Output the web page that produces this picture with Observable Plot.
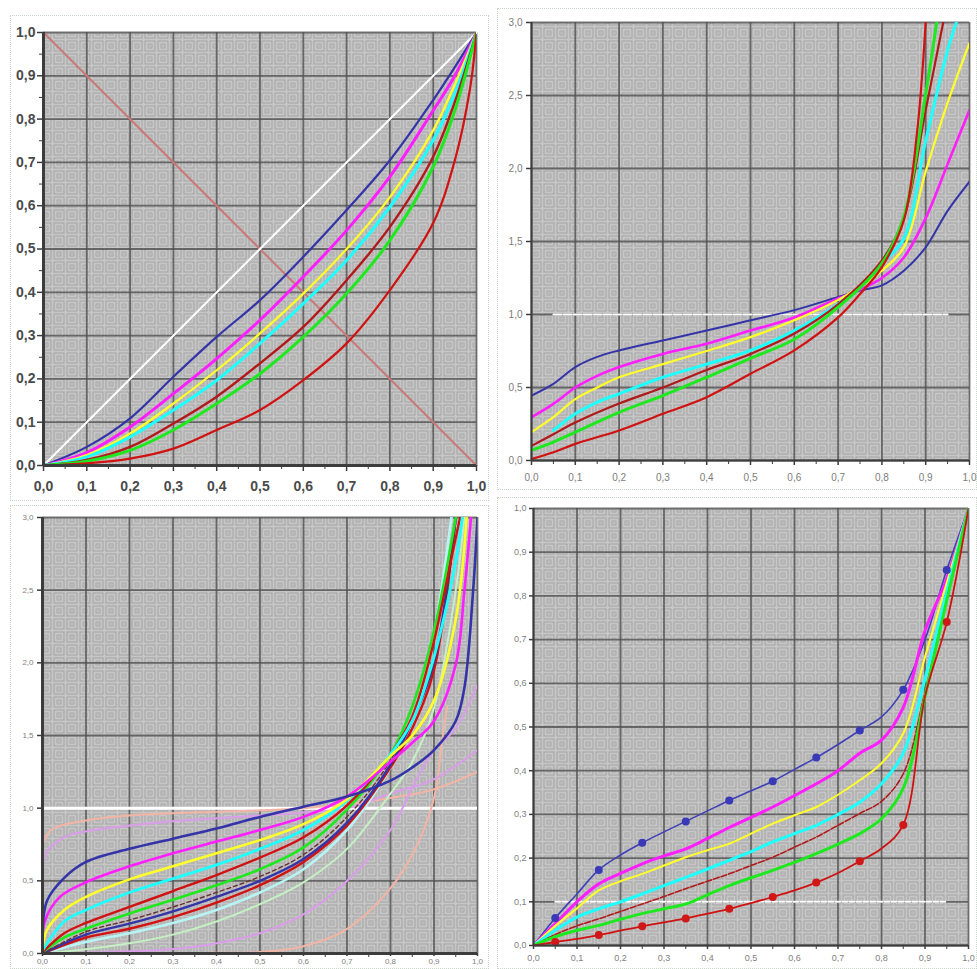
<!DOCTYPE html>
<html>
<head>
<meta charset="utf-8">
<script src="https://cdn.jsdelivr.net/npm/d3@7"></script>
<script src="https://cdn.jsdelivr.net/npm/@observablehq/plot@0.6"></script>
<style>
  html, body { margin: 0; padding: 0; background: #ffffff; }
  #root { position: relative; width: 977px; height: 969px; overflow: hidden; font-family: "Liberation Sans", Arial, sans-serif; }
  #root svg.panel { position: absolute; overflow: visible; }
  .frame { position: absolute; border: 1px dotted #c8d4c8; }
</style>
</head>
<body>
<div id="root"></div>
<script>
// ---------- tick labels ----------
const ticksTenth = [0, 0.1, 0.2, 0.3, 0.4, 0.5, 0.6, 0.7, 0.8, 0.9, 1.0];
const ticksMinor = [0.05, 0.15, 0.25, 0.35, 0.45, 0.55, 0.65, 0.75, 0.85, 0.95];
const ticksHalf = [0, 0.5, 1.0, 1.5, 2.0, 2.5, 3.0];

// ---------- panel 1 (top-left) ----------
const p1X = [0, 0.1, 0.2, 0.3, 0.4, 0.5, 0.6, 0.7, 0.8, 0.9, 0.95, 1.0];
const p1Blue    = [0, 0.043, 0.109, 0.205, 0.297, 0.382, 0.482, 0.590, 0.705, 0.844, 0.92, 1.0];
const p1Magenta = [0, 0.030, 0.089, 0.166, 0.247, 0.336, 0.436, 0.543, 0.667, 0.820, 0.90, 1.0];
const p1Yellow  = [0, 0.024, 0.074, 0.143, 0.220, 0.305, 0.397, 0.500, 0.620, 0.774, 0.88, 1.0];
const p1Cyan    = [0, 0.020, 0.066, 0.128, 0.197, 0.282, 0.374, 0.474, 0.597, 0.751, 0.86, 1.0];
const p1DarkRed = [0, 0.013, 0.043, 0.097, 0.159, 0.236, 0.320, 0.428, 0.551, 0.713, 0.84, 1.0];
const p1Green   = [0, 0.010, 0.035, 0.082, 0.143, 0.212, 0.297, 0.397, 0.520, 0.690, 0.82, 1.0];
const p1RedX = [0, 0.1, 0.2, 0.3, 0.4, 0.5, 0.6, 0.7, 0.8, 0.9, 0.95, 0.985, 1.0];
const p1Red  = [0, 0.005, 0.016, 0.039, 0.082, 0.128, 0.197, 0.282, 0.405, 0.560, 0.705, 0.87, 1.0];

// ---------- panel 2 (top-right) ----------
const p2X = [0, 0.05, 0.1, 0.15, 0.2, 0.3, 0.4, 0.5, 0.6, 0.7, 0.75, 0.8, 0.85, 0.9, 0.95, 1.0];
const p2Blue    = [0.445, 0.525, 0.64, 0.71, 0.754, 0.822, 0.89, 0.96, 1.03, 1.12, 1.165, 1.20, 1.30, 1.46, 1.71, 1.91];
const p2Magenta = [0.297, 0.388, 0.50, 0.58, 0.64, 0.73, 0.80, 0.89, 0.98, 1.11, 1.17, 1.25, 1.39, 1.66, 2.03, 2.40];
const p2Yellow  = [0.194, 0.297, 0.42, 0.50, 0.57, 0.66, 0.75, 0.845, 0.96, 1.10, 1.19, 1.30, 1.46, 1.98, 2.45, 2.86];
const p2CyanX = [0.05, 0.1, 0.15, 0.2, 0.3, 0.4, 0.5, 0.6, 0.7, 0.75, 0.8, 0.85, 0.9, 0.95, 0.97];
const p2Cyan  = [0.206, 0.32, 0.40, 0.457, 0.57, 0.66, 0.754, 0.89, 1.07, 1.19, 1.35, 1.52, 2.19, 2.81, 3.0];
const p2DarkRedX = [0, 0.05, 0.1, 0.2, 0.3, 0.4, 0.5, 0.6, 0.7, 0.8, 0.85, 0.9, 0.94];
const p2DarkRed  = [0.10, 0.18, 0.26, 0.39, 0.50, 0.62, 0.73, 0.87, 1.07, 1.37, 1.66, 2.40, 3.0];
const p2GreenX = [0, 0.05, 0.1, 0.2, 0.3, 0.4, 0.5, 0.6, 0.7, 0.8, 0.85, 0.9, 0.925];
const p2Green  = [0.07, 0.126, 0.194, 0.33, 0.445, 0.57, 0.70, 0.83, 1.05, 1.35, 1.67, 2.51, 3.0];
const p2RedX = [0, 0.05, 0.1, 0.2, 0.3, 0.4, 0.5, 0.6, 0.7, 0.75, 0.8, 0.85, 0.88, 0.9];
const p2Red  = [0.01, 0.057, 0.114, 0.206, 0.32, 0.434, 0.594, 0.754, 0.98, 1.14, 1.325, 1.645, 2.24, 3.0];
const p2WhiteX = [0.05, 0.95];
const p2WhiteY = [1.0, 1.0];

// ---------- panel 3 (bottom-left) ----------
const p3BlueAX = [0, 0.01, 0.05, 0.1, 0.2, 0.3, 0.4, 0.5, 0.6, 0.7, 0.8, 0.85, 0.9, 0.95, 0.97, 0.99, 1.0];
const p3BlueA  = [0.1, 0.36, 0.52, 0.63, 0.72, 0.79, 0.86, 0.94, 1.01, 1.08, 1.19, 1.28, 1.40, 1.60, 1.83, 2.5, 3.0];
const p3MagentaX = [0, 0.005, 0.04, 0.1, 0.2, 0.3, 0.4, 0.5, 0.6, 0.7, 0.8, 0.85, 0.9, 0.95, 0.97, 0.985];
const p3Magenta  = [0.05, 0.22, 0.39, 0.49, 0.60, 0.69, 0.77, 0.85, 0.94, 1.08, 1.32, 1.45, 1.60, 1.99, 2.5, 3.0];
const p3YellowX = [0, 0.01, 0.05, 0.1, 0.2, 0.3, 0.4, 0.5, 0.6, 0.7, 0.8, 0.85, 0.9, 0.95, 0.975];
const p3Yellow  = [0.03, 0.16, 0.30, 0.39, 0.51, 0.60, 0.69, 0.78, 0.89, 1.06, 1.36, 1.50, 1.74, 2.3, 3.0];
const p3CyanX = [0, 0.05, 0.1, 0.2, 0.3, 0.4, 0.5, 0.6, 0.7, 0.8, 0.85, 0.9, 0.95, 0.965];
const p3Cyan  = [0.02, 0.22, 0.30, 0.42, 0.515, 0.61, 0.72, 0.85, 1.05, 1.37, 1.60, 2.04, 2.7, 3.0];
const p3RedAX = [0, 0.05, 0.1, 0.2, 0.3, 0.4, 0.5, 0.6, 0.7, 0.8, 0.85, 0.9, 0.94, 0.96];
const p3RedA  = [0.01, 0.14, 0.21, 0.32, 0.43, 0.54, 0.66, 0.80, 1.02, 1.37, 1.63, 2.15, 2.72, 3.0];
const p3GreenX = [0, 0.05, 0.1, 0.2, 0.3, 0.4, 0.5, 0.6, 0.7, 0.8, 0.85, 0.9, 0.95];
const p3Green  = [0.01, 0.11, 0.17, 0.275, 0.37, 0.47, 0.58, 0.73, 0.99, 1.37, 1.70, 2.22, 3.0];
const p3DashX = [0, 0.1, 0.2, 0.3, 0.4, 0.5, 0.6, 0.7, 0.8, 0.9, 0.95];
const p3Dash  = [0, 0.15, 0.23, 0.32, 0.42, 0.53, 0.68, 0.94, 1.33, 2.0, 3.0];
const p3BlueBX = [0, 0.1, 0.2, 0.3, 0.4, 0.5, 0.6, 0.7, 0.8, 0.85, 0.9, 0.95];
const p3BlueB  = [0, 0.13, 0.205, 0.29, 0.39, 0.50, 0.65, 0.90, 1.30, 1.60, 2.0, 3.0];
const p3RedBX = [0, 0.1, 0.2, 0.3, 0.4, 0.5, 0.6, 0.7, 0.8, 0.85, 0.9, 0.95];
const p3RedB  = [0, 0.11, 0.17, 0.25, 0.35, 0.47, 0.63, 0.88, 1.28, 1.55, 1.95, 3.0];
const p3LightCyanX = [0, 0.1, 0.2, 0.3, 0.4, 0.5, 0.6, 0.7, 0.8, 0.85, 0.9, 0.94];
const p3LightCyan  = [0, 0.08, 0.14, 0.21, 0.30, 0.42, 0.58, 0.85, 1.28, 1.58, 2.2, 3.0];
const p3LightGreenX = [0, 0.1, 0.2, 0.3, 0.4, 0.5, 0.6, 0.7, 0.8, 0.85, 0.9, 0.95, 0.97];
const p3LightGreen  = [0, 0.03, 0.07, 0.13, 0.22, 0.34, 0.49, 0.72, 1.10, 1.32, 1.69, 2.5, 3.0];
const p3VioletLowX = [0, 0.1, 0.2, 0.3, 0.4, 0.5, 0.6, 0.7, 0.8, 0.86, 0.9, 0.95, 1.0];
const p3VioletLow  = [0, 0.005, 0.015, 0.03, 0.07, 0.14, 0.27, 0.50, 0.85, 1.20, 1.40, 1.55, 1.85];
const p3VioletHighX = [0, 0.01, 0.05, 0.1, 0.2, 0.3, 0.4, 0.5, 0.6, 0.7, 0.8, 0.9, 1.0];
const p3VioletHigh  = [0.60, 0.70, 0.80, 0.84, 0.88, 0.91, 0.93, 0.95, 0.97, 1.00, 1.10, 1.20, 1.40];
const p3SalmonHighX = [0, 0.02, 0.1, 0.2, 0.3, 0.4, 0.5, 0.6, 0.7, 0.8, 0.9, 1.0];
const p3SalmonHigh  = [0.75, 0.85, 0.915, 0.95, 0.965, 0.975, 0.985, 1.0, 1.03, 1.07, 1.13, 1.25];
const p3SalmonLowX = [0, 0.2, 0.4, 0.5, 0.6, 0.7, 0.8, 0.86, 0.9, 0.92, 0.93];
const p3SalmonLow  = [0, 0, 0.005, 0.01, 0.05, 0.17, 0.45, 0.74, 1.07, 1.49, 1.70];
const p3WhiteX = [0, 1.0];
const p3WhiteY = [1.0, 1.0];

// ---------- panel 4 (bottom-right) ----------
const p4X = [0, 0.05, 0.1, 0.15, 0.2, 0.25, 0.3, 0.35, 0.4, 0.45, 0.5, 0.55, 0.6, 0.65, 0.7, 0.75, 0.8, 0.85, 0.9, 0.95, 1.0];
const p4Blue    = [0, 0.063, 0.118, 0.173, 0.207, 0.235, 0.26, 0.284, 0.308, 0.332, 0.354, 0.376, 0.403, 0.43, 0.46, 0.492, 0.523, 0.585, 0.70, 0.859, 1.0];
const p4Magenta = [0, 0.05, 0.10, 0.141, 0.165, 0.187, 0.205, 0.221, 0.245, 0.27, 0.293, 0.317, 0.343, 0.37, 0.40, 0.44, 0.47, 0.545, 0.72, 0.84, 1.0];
const p4Yellow  = [0, 0.045, 0.085, 0.126, 0.147, 0.164, 0.183, 0.202, 0.218, 0.233, 0.256, 0.279, 0.298, 0.317, 0.345, 0.378, 0.417, 0.485, 0.66, 0.83, 1.0];
const p4Cyan    = [0, 0.035, 0.065, 0.084, 0.10, 0.118, 0.137, 0.156, 0.175, 0.195, 0.215, 0.237, 0.256, 0.275, 0.30, 0.328, 0.37, 0.44, 0.61, 0.81, 1.0];
const p4DarkRed = [0, 0.025, 0.045, 0.061, 0.078, 0.095, 0.112, 0.13, 0.147, 0.164, 0.183, 0.202, 0.225, 0.248, 0.275, 0.302, 0.33, 0.393, 0.58, 0.79, 1.0];
const p4Green   = [0, 0.02, 0.035, 0.046, 0.06, 0.073, 0.084, 0.095, 0.116, 0.137, 0.155, 0.172, 0.19, 0.21, 0.232, 0.256, 0.29, 0.36, 0.57, 0.79, 1.0];
const p4Red     = [0, 0.008, 0.015, 0.024, 0.034, 0.044, 0.053, 0.062, 0.073, 0.084, 0.097, 0.111, 0.126, 0.144, 0.166, 0.193, 0.222, 0.276, 0.57, 0.74, 1.0];
const p4MarkerX = [0.05, 0.15, 0.25, 0.35, 0.45, 0.55, 0.65, 0.75, 0.85, 0.95];
const p4BlueMarks = [0.063, 0.173, 0.235, 0.284, 0.332, 0.376, 0.43, 0.492, 0.585, 0.859];
const p4RedMarks  = [0.008, 0.024, 0.044, 0.062, 0.084, 0.111, 0.144, 0.193, 0.276, 0.74];
const p4WhiteX = [0.05, 0.95];
const p4WhiteY = [0.1, 0.1];

// ---------- colours ----------
const C = {
  blue: "#3434a8", magenta: "#ff1eff", yellow: "#ffff2a", cyan: "#1effff",
  darkred: "#b01a1a", green: "#1ee81e", red: "#d01212", white: "#ffffff",
  diag: "#c87a7a", lightcyan: "#b8f4f4", lightgreen: "#c4f0c4", violet: "#dc9cec",
  salmon: "#f4b4a4", dash: "#6a3030"
};

const fmt = d => d.toFixed(1).replace(".", ",");
const zip = (xs, ys) => xs.map((x, i) => ({x, y: ys[i]}));

function line(xs, ys, stroke, strokeWidth, extra = {}) {
  return Plot.line(zip(xs, ys), {x: "x", y: "y", stroke, strokeWidth, curve: "catmull-rom", clip: true, strokeLinejoin: "round", ...extra});
}

function panel(cfg) {
  const grid = "#505050";
  const marks = [
    Plot.frame({fill: "url(#maze)", stroke: null}),
    Plot.gridX(ticksTenth, {stroke: grid, strokeWidth: 1.8, strokeOpacity: 0.8}),
    Plot.gridY(cfg.yGrid, {stroke: grid, strokeWidth: 1.8, strokeOpacity: 0.8}),
    ...cfg.marks,
    Plot.ruleX([0], {stroke: "#3c3c3c", strokeWidth: cfg.axisW}),
    Plot.ruleY([0], {stroke: "#3c3c3c", strokeWidth: cfg.axisW}),
    Plot.axisX(ticksMinor, {tickFormat: () => "", tickSize: 4, stroke: "#3c3c3c", label: null}),
    Plot.axisX(ticksTenth, {tickFormat: fmt, tickSize: cfg.xTickSize, tickPadding: cfg.xPad, fontSize: cfg.fontSize, fontWeight: cfg.fontWeight, fill: cfg.textColor, stroke: "#3c3c3c", strokeWidth: 1.5, label: null}),
    Plot.axisY(cfg.yTicks, {tickFormat: fmt, tickSize: cfg.yTickSize, tickPadding: cfg.yPad, fontSize: cfg.fontSize, fontWeight: cfg.fontWeight, fill: cfg.textColor, stroke: "#3c3c3c", strokeWidth: 1.5, label: null}),
  ];
  if (cfg.yMinor) marks.push(Plot.axisY(cfg.yMinor, {tickFormat: () => "", tickSize: 4, stroke: "#3c3c3c", label: null}));
  const svg = Plot.plot({
    width: cfg.width, height: cfg.height,
    marginLeft: cfg.ml, marginRight: cfg.mr, marginTop: cfg.mt, marginBottom: cfg.mb,
    x: {domain: [0, 1], label: null},
    y: {domain: cfg.yDomain, label: null},
    style: {fontFamily: "'Liberation Sans', Arial, sans-serif", background: "transparent", overflow: "visible"},
    marks
  });
  svg.classList.add("panel");
  svg.style.left = cfg.left + "px";
  svg.style.top = cfg.top + "px";
  return svg;
}

const root = document.getElementById("root");

// pattern definitions (shared)
root.insertAdjacentHTML("beforeend", `
<svg width="0" height="0" style="position:absolute;left:0;top:0">
  <defs>
    <pattern id="maze" width="13" height="13" patternUnits="userSpaceOnUse">
      <rect width="13" height="13" fill="#c6c6c6"/>
      <rect x="1.5" y="1.5" width="10" height="10" fill="none" stroke="#a4a4a4" stroke-width="1"/>
      <rect x="4.5" y="4.5" width="4" height="4" fill="none" stroke="#a8a8a8" stroke-width="1"/>
      <rect x="6" y="6" width="1" height="1" fill="#9e9e8a"/>
    </pattern>
  </defs>
</svg>`);

// dotted outer frames
[[10, 15, 477, 484], [497, 8, 478, 480], [10, 505, 477, 462], [497, 497, 478, 470]].forEach(([l, t, w, h]) => {
  const d = document.createElement("div");
  d.className = "frame";
  Object.assign(d.style, {left: l + "px", top: t + "px", width: w + "px", height: h + "px"});
  root.appendChild(d);
});

// ---- Panel 1 ----
root.appendChild(panel({
  left: 0, top: 0, width: 490, height: 500, ml: 43, mr: 14, mt: 32, mb: 35,
  yDomain: [0, 1], yTicks: ticksTenth, yGrid: ticksTenth, yMinor: ticksMinor,
  fontSize: 14, fontWeight: "bold", textColor: "#4a4a4a", axisW: 3,
  xTickSize: 6, xPad: 10, yTickSize: 6, yPad: 2,
  marks: [
    Plot.line(zip([0, 1], [1, 0]), {x: "x", y: "y", stroke: C.diag, strokeWidth: 2}),
    Plot.line(zip([0, 1], [0, 1]), {x: "x", y: "y", stroke: C.white, strokeWidth: 2}),
    line(p1X, p1Blue, C.blue, 2.2),
    line(p1X, p1Magenta, C.magenta, 3),
    line(p1X, p1Yellow, C.yellow, 2.2),
    line(p1X, p1Cyan, C.cyan, 3),
    line(p1X, p1DarkRed, C.darkred, 2.4),
    line(p1X, p1Green, C.green, 3),
    line(p1RedX, p1Red, C.red, 2.2)
  ]
}));

// ---- Panel 2 ----
root.appendChild(panel({
  left: 490, top: 0, width: 487, height: 490, ml: 41, mr: 8, mt: 22, mb: 30,
  yDomain: [0, 3], yTicks: ticksHalf, yGrid: ticksHalf,
  fontSize: 10, fontWeight: "normal", textColor: "#7c7c7c", axisW: 2,
  xTickSize: 5, xPad: 8, yTickSize: 5, yPad: 4,
  marks: [
    line(p2WhiteX, p2WhiteY, C.white, 2, {strokeDasharray: "8,2"}),
    line(p2X, p2Blue, C.blue, 2),
    line(p2X, p2Magenta, C.magenta, 2.6),
    line(p2X, p2Yellow, C.yellow, 2.2),
    line(p2CyanX, p2Cyan, C.cyan, 3),
    line(p2DarkRedX, p2DarkRed, C.darkred, 2.2),
    line(p2GreenX, p2Green, C.green, 3),
    line(p2RedX, p2Red, C.red, 2.2)
  ]
}));

// ---- Panel 3 ----
root.appendChild(panel({
  left: 0, top: 500, width: 490, height: 469, ml: 42, mr: 13, mt: 17, mb: 16,
  yDomain: [0, 3], yTicks: ticksHalf, yGrid: ticksHalf,
  fontSize: 8, fontWeight: "normal", textColor: "#808080", axisW: 3,
  xTickSize: 3, xPad: 2, yTickSize: 5, yPad: 4,
  marks: [
    line(p3WhiteX, p3WhiteY, C.white, 3),
    line(p3SalmonLowX, p3SalmonLow, C.salmon, 2, {strokeDasharray: "3,1"}),
    line(p3SalmonHighX, p3SalmonHigh, C.salmon, 2, {strokeDasharray: "3,1"}),
    line(p3VioletLowX, p3VioletLow, C.violet, 2, {strokeDasharray: "3,1"}),
    line(p3VioletHighX, p3VioletHigh, C.violet, 2, {strokeDasharray: "3,1"}),
    line(p3LightGreenX, p3LightGreen, C.lightgreen, 2),
    line(p3LightCyanX, p3LightCyan, C.lightcyan, 2.6),
    line(p3RedBX, p3RedB, C.red, 2.4),
    line(p3BlueBX, p3BlueB, C.blue, 2.4),
    line(p3DashX, p3Dash, C.dash, 1.4, {strokeDasharray: "4,3"}),
    line(p3GreenX, p3Green, C.green, 2.6),
    line(p3RedAX, p3RedA, C.red, 2.4),
    line(p3CyanX, p3Cyan, C.cyan, 2.8),
    line(p3YellowX, p3Yellow, C.yellow, 2.6),
    line(p3MagentaX, p3Magenta, C.magenta, 2.6),
    line(p3BlueAX, p3BlueA, C.blue, 2.6)
  ]
}));

// ---- Panel 4 ----
root.appendChild(panel({
  left: 490, top: 490, width: 487, height: 479, ml: 43, mr: 9, mt: 18, mb: 24,
  yDomain: [0, 1], yTicks: ticksTenth, yGrid: ticksTenth,
  fontSize: 9, fontWeight: "normal", textColor: "#808080", axisW: 2,
  xTickSize: 4, xPad: 5, yTickSize: 4, yPad: 3,
  marks: [
    line(p4WhiteX, p4WhiteY, C.white, 2, {strokeDasharray: "5,2"}),
    line(p4X, p4Blue, "#4040b8", 1.6),
    line(p4X, p4Magenta, C.magenta, 3),
    line(p4X, p4Yellow, C.yellow, 2),
    line(p4X, p4Cyan, C.cyan, 3),
    line(p4X, p4DarkRed, C.darkred, 1.6, {strokeDasharray: "6,2"}),
    line(p4X, p4Green, C.green, 3),
    line(p4X, p4Red, C.red, 1.8),
    Plot.dot(zip(p4MarkerX, p4BlueMarks), {x: "x", y: "y", r: 4, fill: "#3a3ab8"}),
    Plot.dot(zip(p4MarkerX, p4RedMarks), {x: "x", y: "y", r: 4, fill: "#d01818"})
  ]
}));
</script>
</body>
</html>
